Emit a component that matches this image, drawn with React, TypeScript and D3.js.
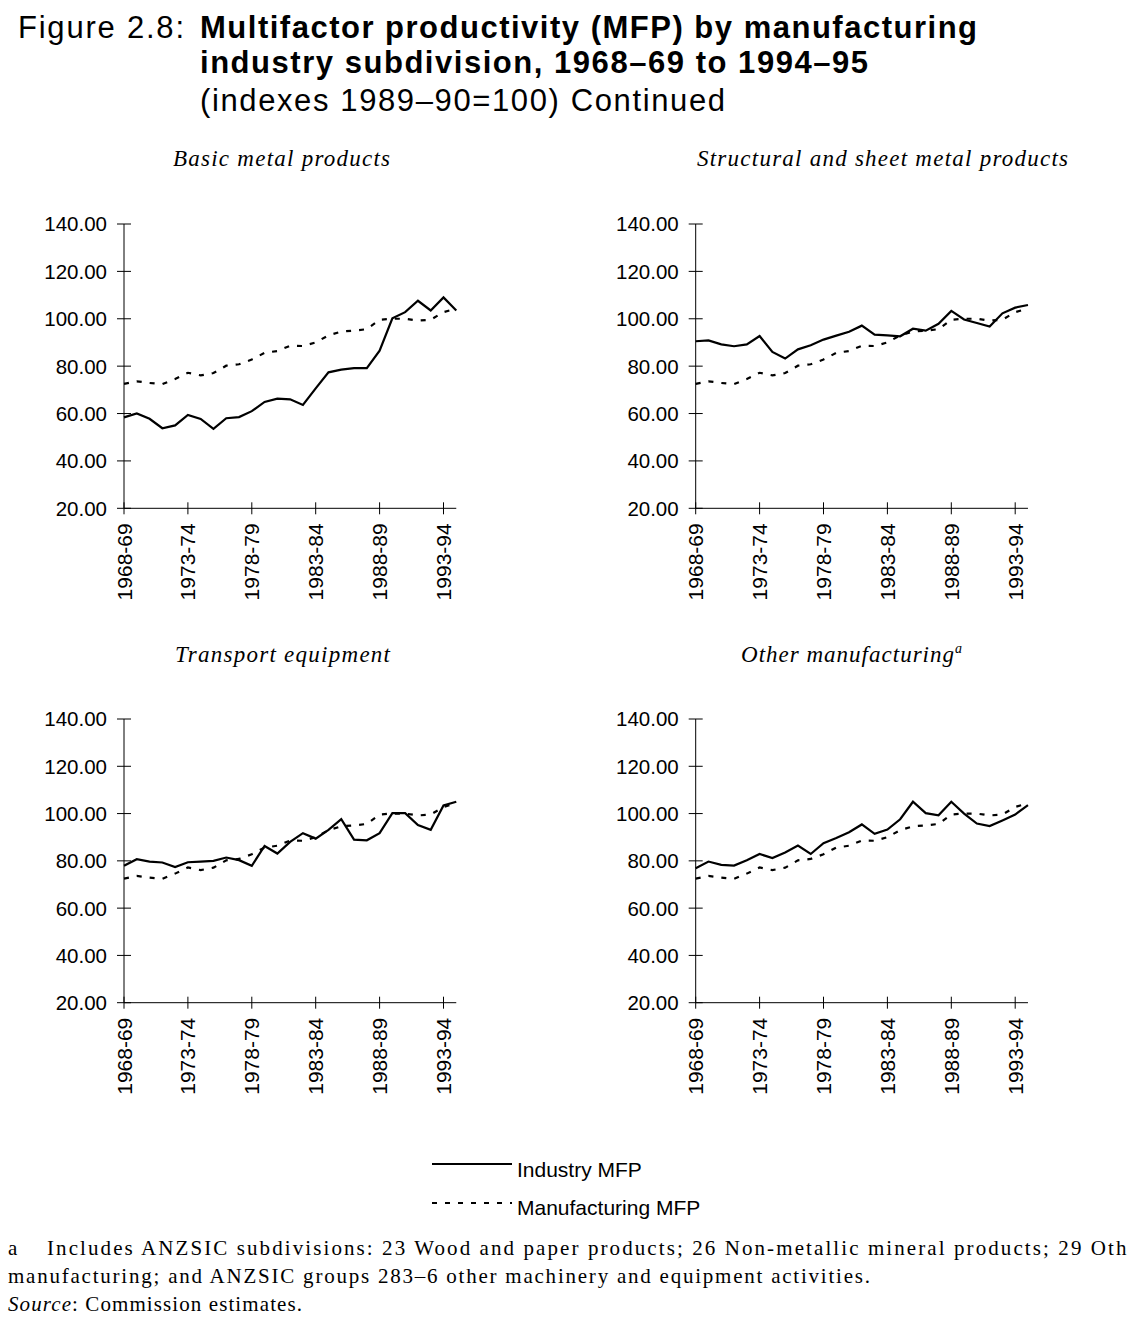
import React from "react";
import * as d3 from "d3";

const categories = [
  "1968-69", "1969-70", "1970-71", "1971-72", "1972-73", "1973-74", "1974-75",
  "1975-76", "1976-77", "1977-78", "1978-79", "1979-80", "1980-81", "1981-82",
  "1982-83", "1983-84", "1984-85", "1985-86", "1986-87", "1987-88", "1988-89",
  "1989-90", "1990-91", "1991-92", "1992-93", "1993-94", "1994-95",
];
const tickCategories = ["1968-69", "1973-74", "1978-79", "1983-84", "1988-89", "1993-94"];
const yTicks = [20, 40, 60, 80, 100, 120, 140];

const manufacturingMFP = [72.5, 73.6, 72.9, 72.4, 74.6, 77.2, 76.1, 77.1, 80.2, 80.8, 82.8, 85.6, 86.4, 88.6, 88.5, 90, 93, 94.6, 95, 95.6, 99.6, 100, 100, 99.2, 99.6, 102.8, 104.3];
const basicMetal = [58.4, 60, 57.8, 53.8, 55, 59.4, 57.7, 53.5, 58, 58.5, 61, 64.9, 66.3, 66, 63.6, 70.6, 77.4, 78.5, 79.2, 79.2, 86.5, 100.2, 102.8, 107.6, 103.5, 109, 103.5];
const structuralMetal = [90.5, 90.9, 89.2, 88.4, 89.2, 92.7, 86, 83.2, 87.1, 88.8, 91.2, 92.9, 94.5, 97.1, 93.3, 93, 92.6, 95.8, 95, 97.9, 103.3, 99.7, 98.2, 96.7, 102.3, 104.7, 105.8];
const transportEquip = [77.9, 80.7, 79.7, 79.3, 77.4, 79.4, 79.7, 80, 81.4, 80.3, 77.9, 86.3, 83.1, 88, 91.7, 89.4, 93.1, 97.6, 89, 88.7, 91.7, 100.2, 100.2, 95.1, 93.1, 103.4, 105];
const otherManuf = [76.9, 79.7, 78.3, 78, 80.3, 82.9, 81.2, 83.5, 86.5, 82.9, 87.5, 89.7, 92.1, 95.4, 91.4, 93.2, 97.6, 105, 100.2, 99.3, 105, 100, 95.8, 94.7, 97.1, 99.6, 103.6];

const SANS = "'Liberation Sans', Arial, sans-serif";
const SERIF = "'Liberation Serif', 'Times New Roman', serif";

type PanelProps = {
  x0: number;
  yTop: number;
  yBottom: number;
  industry: number[];
  title: string;
  titleX: number;
  titleY: number;
  titleW: number;
  sup?: string;
};

const STEP = 12.78;

function Panel({ x0, yTop, yBottom, industry, title, titleX, titleY, titleW, sup }: PanelProps) {
  const x = d3.scalePoint<string>().domain(categories).range([x0, x0 + STEP * (categories.length - 1)]);
  const y = d3.scaleLinear().domain([20, 140]).range([yBottom, yTop]);
  const line = d3
    .line<number>()
    .x((_, i) => x(categories[i]) as number)
    .y((d) => y(d));
  const xEnd = x(categories[categories.length - 1]) as number;
  return (
    <g>
      <text
        x={titleX}
        y={titleY}
        fontFamily={SERIF}
        fontStyle="italic"
        fontSize={23}
        textLength={titleW}
        lengthAdjust="spacing"
      >
        {title}
      </text>
      {sup && (
        <text x={titleX + titleW + 1} y={titleY - 9} fontFamily={SERIF} fontStyle="italic" fontSize={14}>
          {sup}
        </text>
      )}
      <line x1={x0} x2={x0} y1={y(140)} y2={y(20)} stroke="#000" strokeWidth={1} />
      <line x1={x0} x2={xEnd} y1={y(20)} y2={y(20)} stroke="#000" strokeWidth={1} />
      {yTicks.map((t) => (
        <g key={t}>
          <line x1={x0 - 7} x2={x0 + 7} y1={y(t)} y2={y(t)} stroke="#000" strokeWidth={1} />
          <text
            x={x0 - 17}
            y={y(t)}
            dy="0.36em"
            textAnchor="end"
            fontFamily={SANS}
            fontSize={20.5}
          >
            {t.toFixed(2)}
          </text>
        </g>
      ))}
      {tickCategories.map((c) => {
        const cx = x(c) as number;
        return (
          <g key={c}>
            <line x1={cx} x2={cx} y1={y(20) - 6} y2={y(20) + 6} stroke="#000" strokeWidth={1} />
            <text
              transform={`translate(${cx},${y(20) + 15}) rotate(-90)`}
              textAnchor="end"
              dy="0.36em"
              fontFamily={SANS}
              fontSize={21}
            >
              {c}
            </text>
          </g>
        );
      })}
      <path d={line(manufacturingMFP) || ""} fill="none" stroke="#000" strokeWidth={2.2} strokeDasharray="5 8" />
      <path d={line(industry) || ""} fill="none" stroke="#000" strokeWidth={2.2} strokeLinejoin="miter" />
    </g>
  );
}

export default function App() {
  return (
    <svg
      width={1128}
      height={1327}
      style={{ position: "absolute", left: 0, top: 0, background: "#fff" }}
    >
      <rect width={1128} height={1327} fill="#fff" />
      <text x={18} y={38} fontFamily={SANS} fontSize={31} textLength={166} lengthAdjust="spacing">
        Figure 2.8:
      </text>
      <text x={200} y={38} fontFamily={SANS} fontSize={31} fontWeight="bold" textLength={777} lengthAdjust="spacing">
        Multifactor productivity (MFP) by manufacturing
      </text>
      <text x={200} y={73} fontFamily={SANS} fontSize={31} fontWeight="bold" textLength={668} lengthAdjust="spacing">
        industry subdivision, 1968–69 to 1994–95
      </text>
      <text x={200} y={111} fontFamily={SANS} fontSize={31} textLength={525} lengthAdjust="spacing">
        (indexes 1989–90=100)  Continued
      </text>

      <Panel x0={124} yTop={224} yBottom={508.3} industry={basicMetal} title="Basic metal products" titleX={173} titleY={166} titleW={217} />
      <Panel x0={695.7} yTop={224} yBottom={508.3} industry={structuralMetal} title="Structural and sheet metal products" titleX={697} titleY={166} titleW={371} />
      <Panel x0={124} yTop={719} yBottom={1002.7} industry={transportEquip} title="Transport equipment" titleX={175} titleY={662} titleW={215} />
      <Panel x0={695.7} yTop={719} yBottom={1002.7} industry={otherManuf} title="Other manufacturing" titleX={741} titleY={662} titleW={213} sup="a" />

      <line x1={432} x2={512} y1={1164} y2={1164} stroke="#000" strokeWidth={2.2} />
      <text x={517} y={1177} fontFamily={SANS} fontSize={21}>Industry MFP</text>
      <line x1={432} x2={512} y1={1203} y2={1203} stroke="#000" strokeWidth={2.2} strokeDasharray="5 8" />
      <text x={517} y={1215} fontFamily={SANS} fontSize={21}>Manufacturing MFP</text>

      <text x={8} y={1255} fontFamily={SERIF} fontSize={21}>a</text>
      <text x={47} y={1255} fontFamily={SERIF} fontSize={21} textLength={1100} lengthAdjust="spacing">
        Includes ANZSIC subdivisions: 23 Wood and paper products; 26 Non-metallic mineral products; 29 Other
      </text>
      <text x={8} y={1283} fontFamily={SERIF} fontSize={21} textLength={862} lengthAdjust="spacing">
        manufacturing; and ANZSIC groups 283–6 other machinery and equipment activities.
      </text>
      <text x={8} y={1311} fontFamily={SERIF} fontSize={21} textLength={294} lengthAdjust="spacing">
        <tspan fontStyle="italic">Source</tspan>
        <tspan>:  Commission estimates.</tspan>
      </text>
    </svg>
  );
}
